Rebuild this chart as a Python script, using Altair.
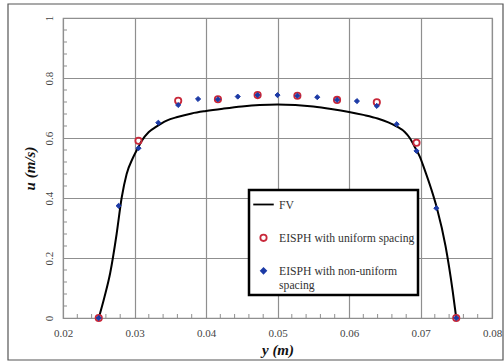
import altair as alt
import pandas as pd

# ---- data ----
fv_y = [0.025, 0.0258, 0.0266, 0.0275, 0.0282, 0.0289, 0.0298, 0.0305, 0.031, 0.032,
        0.033, 0.0345, 0.036, 0.038, 0.040, 0.0425, 0.045, 0.0475, 0.050, 0.0525,
        0.055, 0.0575, 0.060, 0.062, 0.064, 0.0655, 0.0667, 0.0678, 0.0685, 0.0692,
        0.0699, 0.0706, 0.0715, 0.0723, 0.0735, 0.0745, 0.075]
fv_u = [0.0, 0.07, 0.15, 0.28, 0.40, 0.48, 0.535, 0.568, 0.59, 0.62,
        0.637, 0.658, 0.67, 0.682, 0.69, 0.698, 0.705, 0.71, 0.712, 0.71,
        0.705, 0.697, 0.687, 0.677, 0.665, 0.652, 0.638, 0.62, 0.60, 0.57,
        0.538, 0.493, 0.43, 0.366, 0.24, 0.09, 0.0]

uni_y = [0.025, 0.03056, 0.03611, 0.04167, 0.04722, 0.05278, 0.05833, 0.06389, 0.06944, 0.075]
uni_u = [0.0, 0.591, 0.724, 0.729, 0.743, 0.741, 0.727, 0.719, 0.584, 0.0]

non_y = [0.025, 0.02778, 0.03056, 0.03333, 0.03611, 0.03889, 0.04167, 0.04444, 0.04722, 0.05,
         0.05278, 0.05556, 0.05833, 0.06111, 0.06389, 0.06667, 0.06944, 0.07222, 0.075]
non_u = [0.0, 0.374, 0.566, 0.651, 0.71, 0.73, 0.729, 0.738, 0.743, 0.743,
         0.741, 0.736, 0.727, 0.723, 0.707, 0.646, 0.557, 0.366, 0.0]

series = ["FV", "EISPH with uniform spacing", "EISPH with non-uniform spacing"]

x_ticks = [0.02, 0.03, 0.04, 0.05, 0.06, 0.07, 0.08]
y_ticks = [0, 0.2, 0.4, 0.6, 0.8, 1.0]
x_minor = [0.022, 0.024, 0.026, 0.028, 0.032, 0.034, 0.036, 0.038, 0.042, 0.044, 0.046, 0.048,
           0.052, 0.054, 0.056, 0.058, 0.062, 0.064, 0.066, 0.068, 0.072, 0.074, 0.076, 0.078]
y_minor = [0.04, 0.08, 0.12, 0.16, 0.24, 0.28, 0.32, 0.36, 0.44, 0.48, 0.52, 0.56,
           0.64, 0.68, 0.72, 0.76, 0.84, 0.88, 0.92, 0.96]

W, H = 429, 300
RED = "#c8283a"
BLUE = "#1c3aa6"
GRID = "#8f8f8f"
SERIF = "Liberation Serif"

fv_df = pd.DataFrame({"y": fv_y, "u": fv_u, "series": series[0]})
uni_df = pd.DataFrame({"y": uni_y, "u": uni_u, "series": series[1]})
non_df = pd.DataFrame({"y": non_y, "u": non_u, "series": series[2]})

xs = alt.Scale(domain=[0.02, 0.08], nice=False, zero=False)
ys = alt.Scale(domain=[0, 1], nice=False)

color_s = alt.Scale(domain=series, range=["black", RED, BLUE])
fill_s = alt.Scale(domain=series, range=["transparent", "transparent", BLUE])
shape_s = alt.Scale(domain=series, range=["stroke", "circle", "diamond"])
size_s = alt.Scale(type="ordinal", domain=series, range=[420, 40, 26])

legend = alt.Legend(
    title=None, orient="none", legendX=186, legendY=172,
    labelExpr="datum.label == 'EISPH with non-uniform spacing' ? ['EISPH with non-uniform', 'spacing'] : datum.label",
)

x_axis = alt.Axis(values=x_ticks, format="~g", title="y (m)", labelFlush=False)
y_axis = alt.Axis(values=y_ticks, format="~g", title="u (m/s)", labelAngle=270, labelFlush=False)

X = lambda f: alt.X(f, scale=xs, axis=x_axis)
Y = lambda f: alt.Y(f, scale=ys, axis=y_axis)

frame = alt.Chart(alt.Data(values=[{"a": 1}])).mark_rect(
    filled=False, stroke="#555555", strokeWidth=1.2
).encode(
    x=alt.value(-55), x2=alt.value(440), y=alt.value(-14), y2=alt.value(342)
)

yminor = alt.Chart(pd.DataFrame({"v": y_minor})).mark_rule(color=GRID, strokeWidth=1).encode(
    y=Y("v:Q"), x=alt.value(0), x2=alt.value(4)
)
xminor = alt.Chart(pd.DataFrame({"v": x_minor})).mark_rule(color=GRID, strokeWidth=1).encode(
    x=X("v:Q"), y=alt.value(H - 4), y2=alt.value(H)
)

line = alt.Chart(fv_df).mark_line(strokeWidth=2, interpolate="monotone").encode(
    x=X("y:Q"),
    y=Y("u:Q"),
    color=alt.Color("series:N", scale=color_s, legend=legend),
)

def points(df, sw):
    return alt.Chart(df).mark_point(strokeWidth=sw, opacity=1).encode(
        x=X("y:Q"),
        y=Y("u:Q"),
        color=alt.Color("series:N", scale=color_s, legend=legend),
        fill=alt.Fill("series:N", scale=fill_s, legend=legend),
        shape=alt.Shape("series:N", scale=shape_s, legend=legend),
        size=alt.Size("series:N", scale=size_s, legend=legend),
    )

uni = points(uni_df, 1.8)
non = points(non_df, 1)

chart = alt.layer(line, yminor, xminor, uni, non, frame).properties(
    width=W, height=H,
    autosize=alt.AutoSizeParams(type="none"),
    padding={"left": 63, "top": 18, "right": 12, "bottom": 46},
    background="white",
).configure_view(
    stroke=GRID, strokeWidth=1.2
).configure_axis(
    grid=True, gridColor=GRID, gridWidth=1.2, ticks=False, domain=False,
    labelFont=SERIF, labelFontSize=11, labelColor="#444444",
    titleFont=SERIF, titleFontSize=15, titleFontWeight="bold", titleFontStyle="italic",
    titleColor="#111111",
).configure_axisX(
    labelPadding=9, titlePadding=4,
).configure_axisY(
    labelPadding=9, titlePadding=6,
).configure_legend(
    strokeColor="black", strokeWidth=2.5, fillColor="white",
    padding=3, rowPadding=19, labelOffset=4, symbolStrokeWidth=1.8,
    labelFont=SERIF, labelFontSize=11.7, labelColor="#333333", labelLimit=300,
)

chart.save("out.html", embed_options={"renderer": "svg", "actions": False})
